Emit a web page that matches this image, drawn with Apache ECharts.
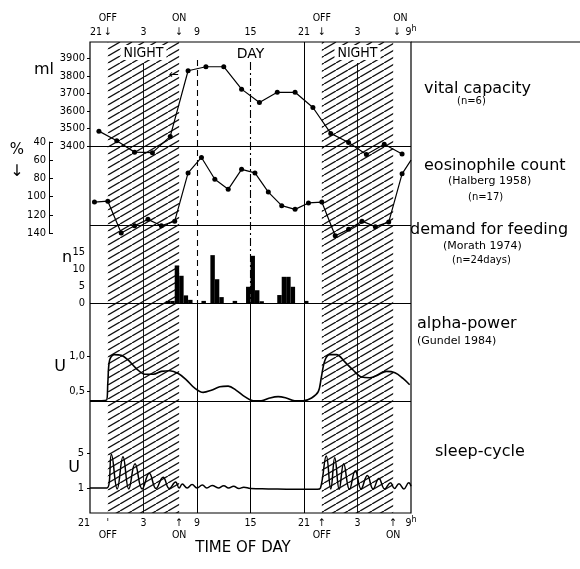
<!DOCTYPE html>
<html>
<head>
<meta charset="utf-8">
<script src="https://cdn.jsdelivr.net/npm/echarts@6/dist/echarts.min.js"></script>
<style>
html, body { margin: 0; padding: 0; background: #fff; }
#chart { width: 580px; height: 569px; }
</style>
</head>
<body>
<div id="chart"></div>
<script>
// time axis: hours counted from 21h of the first evening (0 .. 36)
var hourTicks = [0, 6, 12, 18, 24, 30, 36];
var hourTickLabels = ['21', '3', '9', '15', '21', '3', '9h'];
var lightHours = [2, 10, 26, 34];
var lightLabels = ['OFF', 'ON', 'OFF', 'ON'];
var nightSpans = [[2, 10], [26, 34]];

// vital capacity (ml)
var vitalHours = [1, 3, 5, 7, 9, 11, 13, 15, 17, 19, 21, 23, 25, 27, 29, 31, 33, 35];
var vitalMl = [3485, 3430, 3365, 3362, 3455, 3830, 3853, 3853, 3725, 3648, 3707, 3707, 3620, 3472, 3420, 3352, 3410, 3354];

// eosinophile count (%), axis runs downward
var eosHours = [0.5, 2, 3.5, 5, 6.5, 8, 9.5, 11, 12.5, 14, 15.5, 17, 18.5, 20, 21.5, 23, 24.5, 26, 27.5, 29, 30.5, 32, 33.5, 35, 36];
var eosPct = [106, 105, 140, 132, 125, 132, 127, 74, 57, 81, 92, 70, 74, 95, 110, 114, 107, 106, 143, 136, 127, 133, 128, 75, 60];

// demand for feeding, half-hour bins
var feedStart = [8.5, 9, 9.5, 10, 10.5, 11, 12.5, 13.5, 14, 14.5, 16, 17.5, 18, 18.5, 19, 21, 21.5, 22, 22.5, 24];
var feedCount = [0.7, 0.7, 11, 8, 2.3, 1, 0.7, 14, 7, 1.8, 0.7, 4.8, 13.8, 3.8, 0.6, 2.4, 7.7, 7.7, 4.8, 0.7];
var feedBin = 0.5;

// alpha-power (U)
var alphaHours = [0, 1.85, 2.0, 2.2, 2.7, 3.5, 4.3, 5.2, 6.15, 7.1, 8.0, 8.95, 9.9, 10.8, 11.75, 12.7, 13.6, 14.55, 15.5, 16.4, 17.35, 18.3, 19.2, 20.15, 21.1, 22.0, 22.95, 23.9, 24.85, 25.6, 25.95, 26.35, 26.9, 27.65, 28.55, 29.5, 30.45, 31.4, 32.3, 33.25, 34.2, 35.1, 35.85];
var alphaU = [0.36, 0.37, 0.62, 0.94, 1.02, 1.01, 0.94, 0.82, 0.74, 0.74, 0.78, 0.79, 0.75, 0.66, 0.54, 0.48, 0.51, 0.56, 0.57, 0.51, 0.42, 0.36, 0.36, 0.4, 0.42, 0.4, 0.36, 0.36, 0.4, 0.49, 0.7, 0.94, 1.02, 1.02, 0.92, 0.8, 0.7, 0.69, 0.73, 0.78, 0.76, 0.68, 0.59];

// sleep-cycle (U)
var sleepHours = [0, 1.9, 2.4, 3.05, 3.7, 4.35, 5.05, 5.85, 6.65, 7.4, 8.2, 8.9, 9.6, 10.0, 10.35, 10.9, 11.45, 12.0, 12.6, 13.1, 13.7, 14.4, 15.0, 15.55, 16.1, 16.7, 17.25, 18, 20, 23, 25.5, 25.85, 26.5, 27.0, 27.45, 27.95, 28.45, 29.1, 29.75, 30.4, 31.1, 31.75, 32.4, 33.05, 33.7, 34.15, 34.65, 35.2, 35.75, 36];
var sleepU = [1, 1, 4.85, 0.9, 4.6, 0.9, 3.8, 0.9, 2.7, 0.95, 2.25, 0.95, 1.7, 1.0, 1.45, 1.0, 1.4, 1.0, 1.35, 1.0, 1.3, 1.0, 1.25, 1.0, 1.2, 0.95, 1.1, 0.95, 0.9, 0.85, 0.85, 1.0, 4.7, 0.9, 4.5, 0.85, 3.8, 0.85, 3.0, 0.9, 2.45, 0.9, 2.1, 0.9, 1.6, 0.95, 1.5, 0.9, 1.6, 1.2];

var FONT = "'DejaVu Sans Condensed', 'DejaVu Sans', sans-serif";
var FONT2 = "'DejaVu Sans', sans-serif";

function pairs(xs, ys) {
  return xs.map(function (x, i) { return [x, ys[i]]; });
}

function hatch() {
  var c = document.createElement('canvas');
  c.width = 12;
  c.height = 7;
  var g = c.getContext('2d');
  g.strokeStyle = '#111';
  g.lineWidth = 1.3;
  for (var k = -1; k <= 1; k++) {
    g.beginPath();
    g.moveTo(k * 12, 7);
    g.lineTo(k * 12 + 12, 0);
    g.stroke();
  }
  return c;
}

function timeLabel(v) {
  var t = hourTickLabels[hourTicks.indexOf(v)];
  return t === '9h' ? '9{sup|h}' : t;
}

var myChart = echarts.init(document.getElementById('chart'));

var gridL = 90, gridR = 169;
var grids = [
  { left: gridL, right: gridR, top: 42, height: 471, show: true, borderColor: '#000', borderWidth: 1.2 }, // frame
  { left: gridL, right: gridR, top: 58.5, height: 87.5 },   // vital capacity
  { left: gridL, right: gridR, top: 142, height: 91 },      // eosinophile
  { left: gridL, right: gridR, top: 251.7, height: 51.6 },  // feeding
  { left: gridL, right: gridR, top: 356, height: 44.8 },    // alpha
  { left: gridL, right: gridR, top: 453.3, height: 43.4 }   // sleep
];

var axisText = { color: '#000', fontFamily: FONT, fontSize: 11 };

var xAxes = [
  {
    gridIndex: 0, type: 'value', min: 0, max: 36, position: 'bottom',
    axisLine: { show: false }, axisTick: { show: false }, splitLine: { show: false },
    axisLabel: {
      customValues: hourTicks.concat(lightHours), margin: 4, fontSize: 10.5,
      color: '#000', fontFamily: FONT, lineHeight: 12, alignMinLabel: 'right',
      formatter: function (v) {
        var i = lightHours.indexOf(v);
        if (i >= 0) return (i === 0 ? "'" : '↑') + '\n' + lightLabels[i];
        return timeLabel(v);
      },
      rich: { sup: { fontSize: 9, fontFamily: FONT, padding: [0, 0, 6, 0] } }
    }
  },
  {
    gridIndex: 0, type: 'value', min: 0, max: 36, position: 'top',
    axisLine: { show: false }, axisTick: { show: false }, splitLine: { show: false },
    axisLabel: {
      customValues: hourTicks.concat(lightHours), margin: 3, fontSize: 10.5,
      color: '#000', fontFamily: FONT, lineHeight: 14, alignMinLabel: 'left', alignMaxLabel: 'left',
      formatter: function (v) {
        var i = lightHours.indexOf(v);
        if (i >= 0) return lightLabels[i] + '\n↓';
        return timeLabel(v);
      },
      rich: { sup: { fontSize: 9, fontFamily: FONT, padding: [0, 0, 6, 0] } }
    }
  }
];
for (var gi = 1; gi <= 5; gi++) {
  xAxes.push({ gridIndex: gi, type: 'value', min: 0, max: 36, show: false });
}

var yAxes = [
  { gridIndex: 0, type: 'value', min: 42, max: 513, inverse: true, show: false },
  {
    gridIndex: 1, type: 'value', min: 3400, max: 3900, interval: 100,
    axisLine: { show: false, onZero: false }, axisTick: { show: true, length: 3, lineStyle: { color: '#000' } },
    splitLine: { show: false },
    axisLabel: Object.assign({ margin: 5, formatter: function (v) { return String(v); } }, axisText)
  },
  {
    // separate bracket-like scale left of the frame
    gridIndex: 2, type: 'value', min: 40, max: 140, interval: 20, inverse: true, offset: 41,
    axisLine: { show: true, onZero: false, lineStyle: { color: '#000', width: 1 } },
    axisTick: { show: true, inside: true, length: 4, lineStyle: { color: '#000' } },
    splitLine: { show: false }, axisLabel: Object.assign({ margin: 3 }, axisText)
  },
  {
    gridIndex: 3, type: 'value', min: 0, max: 15, interval: 5,
    axisLine: { show: false, onZero: false }, axisTick: { show: false },
    splitLine: { show: false }, axisLabel: Object.assign({ margin: 5 }, axisText)
  },
  {
    gridIndex: 4, type: 'value', min: 0.36, max: 1.0,
    axisLine: { show: false, onZero: false },
    axisTick: { show: true, length: 3, customValues: [0.5, 1.0], lineStyle: { color: '#000' } },
    splitLine: { show: false },
    axisLabel: Object.assign({
      margin: 5, customValues: [0.5, 1.0],
      formatter: function (v) { return v.toFixed(1).replace('.', ','); }
    }, axisText)
  },
  {
    gridIndex: 5, type: 'value', min: 0, max: 5,
    axisLine: { show: false, onZero: false },
    axisTick: { show: true, length: 3, customValues: [1, 5], lineStyle: { color: '#000' } },
    splitLine: { show: false },
    axisLabel: Object.assign({ margin: 6, customValues: [1, 5] }, axisText)
  }
];

function vLine(h, y0, y1, style) {
  return [{ coord: [h, y0], lineStyle: style }, { coord: [h, y1] }];
}
var solid = { color: '#000', width: 1, type: 'solid' };
var thin = { color: '#000', width: 0.9, type: 'solid' };

var series = [
  // night hatching and DAY label on the frame grid
  {
    type: 'line', xAxisIndex: 0, yAxisIndex: 0, data: [], silent: true, z: 1,
    markArea: {
      silent: true,
      data: nightSpans.map(function (s) {
        return [{
          coord: [s[0], 42],
          itemStyle: { color: { image: hatch(), repeat: 'repeat' } },
          label: {
            show: true, position: 'insideTop', distance: 3, formatter: 'NIGHT',
            backgroundColor: '#fff', padding: [1, 3, 0, 3],
            color: '#000', fontFamily: FONT, fontSize: 14
          }
        }, { coord: [s[1], 513] }];
      }).concat([[{
        coord: [10, 42], itemStyle: { color: 'rgba(0,0,0,0)' },
        label: { show: true, position: 'insideTop', distance: 5, formatter: 'DAY', color: '#000', fontFamily: FONT2, fontSize: 14 }
      }, { coord: [26, 513] }]])
    }
  },
  // vertical time lines and panel separators
  {
    type: 'line', xAxisIndex: 0, yAxisIndex: 0, data: [], silent: true, z: 3,
    markLine: {
      silent: true, symbol: ['none', 'none'], label: { show: false },
      data: [
        vLine(6, 63, 513, thin),
        vLine(30, 63, 513, thin),
        vLine(24, 42, 513, solid),
        vLine(12, 60, 303, { color: '#000', width: 1.1, type: [6, 4] }),
        vLine(12, 303, 513, solid),
        vLine(18, 62, 303, { color: '#000', width: 1.1, type: [8, 3, 2, 3] }),
        vLine(18, 303, 513, solid),
        [{ coord: [0, 225], lineStyle: solid }, { coord: [36, 225] }],
        [{ coord: [0, 401], lineStyle: solid }, { coord: [36, 401] }]
      ]
    }
  },
  {
    name: 'vital capacity', type: 'line', xAxisIndex: 2, yAxisIndex: 1, clip: false, z: 5,
    data: pairs(vitalHours, vitalMl),
    symbol: 'circle', symbolSize: 5,
    lineStyle: { color: '#000', width: 1.2 }, itemStyle: { color: '#000' },
    markLine: {
      silent: true, symbol: ['none', 'none'], label: { show: false },
      lineStyle: solid, data: [{ yAxis: 3400 }]
    }
  },
  {
    name: 'eosinophile count', type: 'line', xAxisIndex: 3, yAxisIndex: 2, clip: false, z: 5,
    data: pairs(eosHours, eosPct),
    symbol: function (v, p) { return p.dataIndex === eosHours.length - 1 ? 'none' : 'circle'; },
    symbolSize: 5,
    lineStyle: { color: '#000', width: 1.2 }, itemStyle: { color: '#000' }
  },
  {
    name: 'demand for feeding', type: 'custom', xAxisIndex: 4, yAxisIndex: 3, z: 5,
    data: pairs(feedStart, feedCount),
    encode: { x: 0, y: 1 },
    renderItem: function (params, api) {
      var start = api.value(0);
      var p0 = api.coord([start, api.value(1)]);
      var p1 = api.coord([start + feedBin, 0]);
      return {
        type: 'rect',
        shape: { x: p0[0], y: p0[1], width: p1[0] - p0[0], height: p1[1] - p0[1] },
        style: { fill: '#000' }
      };
    },
    markLine: {
      silent: true, symbol: ['none', 'none'], label: { show: false },
      lineStyle: solid, data: [{ yAxis: 0 }]
    }
  },
  {
    name: 'alpha-power', type: 'line', xAxisIndex: 5, yAxisIndex: 4, clip: false, z: 5,
    data: pairs(alphaHours, alphaU), showSymbol: false, smooth: 0.35,
    lineStyle: { color: '#000', width: 1.6 }
  },
  {
    name: 'sleep-cycle', type: 'line', xAxisIndex: 6, yAxisIndex: 5, clip: false, z: 5,
    data: pairs(sleepHours, sleepU), showSymbol: false, smooth: 0.45,
    lineStyle: { color: '#000', width: 1.5 }
  }
];

function txt(s, x, y, size, font, align) {
  return {
    type: 'text', x: x, y: y, z: 10, silent: true,
    style: {
      text: s, fill: '#000', font: size + 'px ' + (font || FONT2),
      align: align || 'left', verticalAlign: 'middle'
    }
  };
}

var graphics = [
  { type: 'line', shape: { x1: 411, y1: 42, x2: 580, y2: 42 }, style: { stroke: '#000', lineWidth: 1.2 }, silent: true },
  txt('ml', 44, 70, 16, FONT2, 'center'),
  txt('%', 17, 150, 15, FONT2, 'center'),
  txt('↓', 17, 172, 16, FONT2, 'center'),
  txt('n', 67, 258, 16, FONT2, 'center'),
  txt('U', 60, 367, 16, FONT2, 'center'),
  txt('U', 74, 468, 16, FONT2, 'center'),
  txt('←', 174, 75, 12, FONT2, 'center'),
  txt('vital capacity', 424, 89, 16),
  txt('(n=6)', 457, 101, 10),
  txt('eosinophile count', 424, 166, 16),
  txt('(Halberg 1958)', 448, 181, 11),
  txt('(n=17)', 468, 197, 10),
  txt('demand for feeding', 410, 230, 16),
  txt('(Morath 1974)', 443, 246, 11),
  txt('(n=24days)', 452, 260, 10),
  txt('alpha-power', 417, 324, 16),
  txt('(Gundel 1984)', 417, 341, 11),
  txt('sleep-cycle', 435, 452, 16),
  txt('TIME OF DAY', 243, 548, 15, FONT2, 'center')
];

myChart.setOption({
  animation: false,
  backgroundColor: '#fff',
  grid: grids,
  xAxis: xAxes,
  yAxis: yAxes,
  series: series,
  graphic: graphics
});
</script>
</body>
</html>
